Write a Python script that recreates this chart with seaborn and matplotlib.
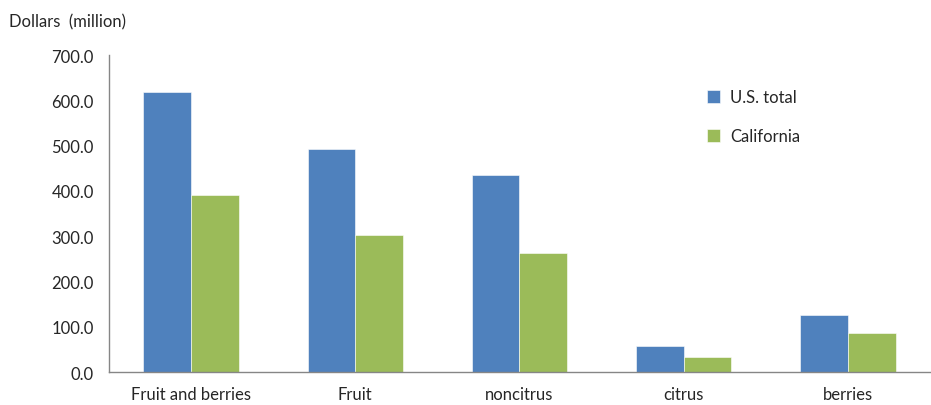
import pandas as pd
import numpy as np
import matplotlib.pyplot as plt
import seaborn as sns

categories = ["Fruit and berries", "Fruit", "noncitrus", "citrus", "berries"]
us_total = [619.0, 492.0, 435.0, 57.0, 125.0]
california = [391.0, 302.0, 264.0, 34.0, 87.0]
series_names = ["U.S. total", "California"]

df = pd.DataFrame({
    "Category": categories * 2,
    "Value": us_total + california,
    "Series": [series_names[0]] * 5 + [series_names[1]] * 5,
})

sns.set_style("white")
plt.rcParams['font.family'] = ['Lato', 'DejaVu Sans']
plt.rcParams['font.size'] = 12

fig = plt.figure(figsize=(9.31, 4.06), dpi=100)
ax = fig.add_axes([0.117, 0.081, 0.882, 0.781])

sns.barplot(data=df, x="Category", y="Value", hue="Series",
            palette=["#4F81BD", "#9BBB59"], width=0.58, saturation=1,
            edgecolor="white", linewidth=0.4, ax=ax)

ax.set_ylim(0, 700)
ax.set_xlim(-0.5, 4.5)
ax.set_yticks(np.arange(0, 701, 100))
ax.set_yticklabels([f"{v:.1f}" for v in np.arange(0, 701, 100)])
ax.set_xticks(np.arange(-0.5, 4.6, 1.0))
ax.set_xticklabels([])
ax.set_xticks(range(len(categories)), minor=True)
ax.set_xticklabels(categories, minor=True)
ax.tick_params(axis="x", which="minor", length=0, pad=10, labelsize=12)
ax.tick_params(axis="x", which="major", length=5, color="#868686", direction="out")
ax.tick_params(axis="y", length=5, color="#868686", direction="out", labelsize=12, pad=6)
ax.set_xlabel("")
ax.set_ylabel("")

for s in ["top", "right"]:
    ax.spines[s].set_visible(False)
for s in ["left", "bottom"]:
    ax.spines[s].set_color("#868686")
    ax.spines[s].set_linewidth(1.0)

ax.legend(title=None, frameon=False, loc="upper left", bbox_to_anchor=(0.71, 0.94),
          handlelength=0.8, handleheight=0.8, handletextpad=0.6, labelspacing=1.4,
          fontsize=12)

fig.text(0.01, 0.945, "Dollars  (million)", fontsize=12, ha="left", va="center")

fig.savefig("out.png", dpi=100)
